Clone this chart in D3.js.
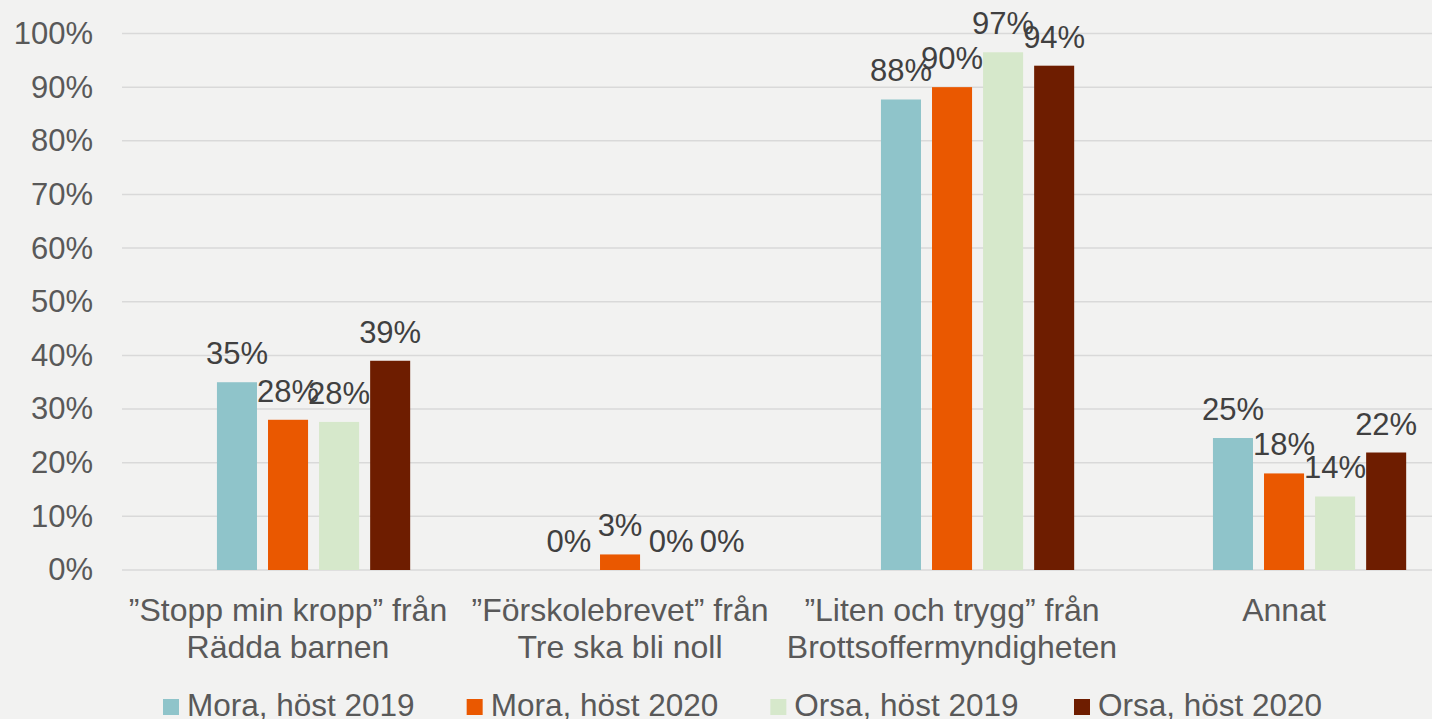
<!DOCTYPE html>
<html>
<head>
<meta charset="utf-8">
<script src="https://cdn.jsdelivr.net/npm/d3@7"></script>
<style>
  html, body { margin: 0; padding: 0; background: #F2F2F1; }
  svg { display: block; font-family: "Liberation Sans", Arial, sans-serif; }
</style>
</head>
<body>
<script>
const categories = [
  "”Stopp min kropp” från\nRädda barnen",
  "”Förskolebrevet” från\nTre ska bli noll",
  "”Liten och trygg” från\nBrottsoffermyndigheten",
  "Annat"
];
const seriesNames = ["Mora, höst 2019", "Mora, höst 2020", "Orsa, höst 2019", "Orsa, höst 2020"];
const mora2019 = [35, 0, 87.7, 24.6];
const mora2020 = [28, 2.9, 90, 18];
const orsa2019 = [27.6, 0, 96.5, 13.7];
const orsa2020 = [39, 0, 94, 21.9];
const seriesColors = ["#8FC4CA", "#EA5800", "#D6E8CB", "#6E1D00"];
const yTicks = [0, 10, 20, 30, 40, 50, 60, 70, 80, 90, 100];

const seriesValues = [mora2019, mora2020, orsa2019, orsa2020];

const W = 1432, H = 719;
const svg = d3.select("body").append("svg").attr("width", W).attr("height", H);
svg.append("rect").attr("width", W).attr("height", H).attr("fill", "#F2F2F1");

const x0 = d3.scaleBand().domain(categories).range([122, 1450]);
const bw = x0.bandwidth();
const x1 = d3.scaleBand().domain(seriesNames).range([bw * 0.286, bw * 0.868]).paddingInner(0.216);
const y = d3.scaleLinear().domain([0, 100]).range([570, 33.5]);

// gridlines
svg.append("g").selectAll("line").data(yTicks).join("line")
  .attr("x1", 122).attr("x2", W)
  .attr("y1", d => y(d)).attr("y2", d => y(d))
  .attr("stroke", "#D9D9D9").attr("stroke-width", 1.5);

// y axis labels
const yAxis = d3.axisLeft(y).tickValues(yTicks).tickFormat(d => d + "%").tickSize(0).tickPadding(0);
const gy = svg.append("g").attr("transform", "translate(93,0)").call(yAxis);
gy.select(".domain").remove();
gy.selectAll("text").attr("font-size", 31).attr("fill", "#595959")
  .attr("font-family", "'Liberation Sans', Arial, sans-serif");

// bars
const fmt = d3.format(".0%");
seriesNames.forEach((s, si) => {
  const g = svg.append("g");
  const data = categories.map((c, ci) => ({ c, v: seriesValues[si][ci] }));
  g.selectAll("rect").data(data).join("rect")
    .attr("x", d => x0(d.c) + x1(s))
    .attr("y", d => y(d.v))
    .attr("width", x1.bandwidth())
    .attr("height", d => y(0) - y(d.v))
    .attr("fill", seriesColors[si]);
  g.selectAll("text").data(data).join("text")
    .attr("x", d => x0(d.c) + x1(s) + x1.bandwidth() / 2)
    .attr("y", d => y(d.v) - 18)
    .attr("text-anchor", "middle")
    .attr("font-size", 31)
    .attr("fill", "#404040")
    .text(d => fmt(d.v / 100));
});

// category labels
const gx = svg.append("g");
categories.forEach(c => {
  const t = gx.append("text")
    .attr("x", x0(c) + bw / 2)
    .attr("y", 621)
    .attr("text-anchor", "middle")
    .attr("font-size", 32)
    .attr("fill", "#595959");
  c.split("\n").forEach((line, i) => {
    t.append("tspan").attr("x", x0(c) + bw / 2).attr("dy", i === 0 ? 0 : 36.5).text(line);
  });
});

// legend
const legendX = d3.scalePoint().domain(seriesNames).range([163, 1074]);
const lg = svg.append("g");
seriesNames.forEach((s, i) => {
  lg.append("rect").attr("x", legendX(s)).attr("y", 699).attr("width", 16).attr("height", 16)
    .attr("fill", seriesColors[i]);
  lg.append("text").attr("x", legendX(s) + 24).attr("y", 716)
    .attr("font-size", 31.5).attr("fill", "#595959").text(s);
});
</script>
</body>
</html>
